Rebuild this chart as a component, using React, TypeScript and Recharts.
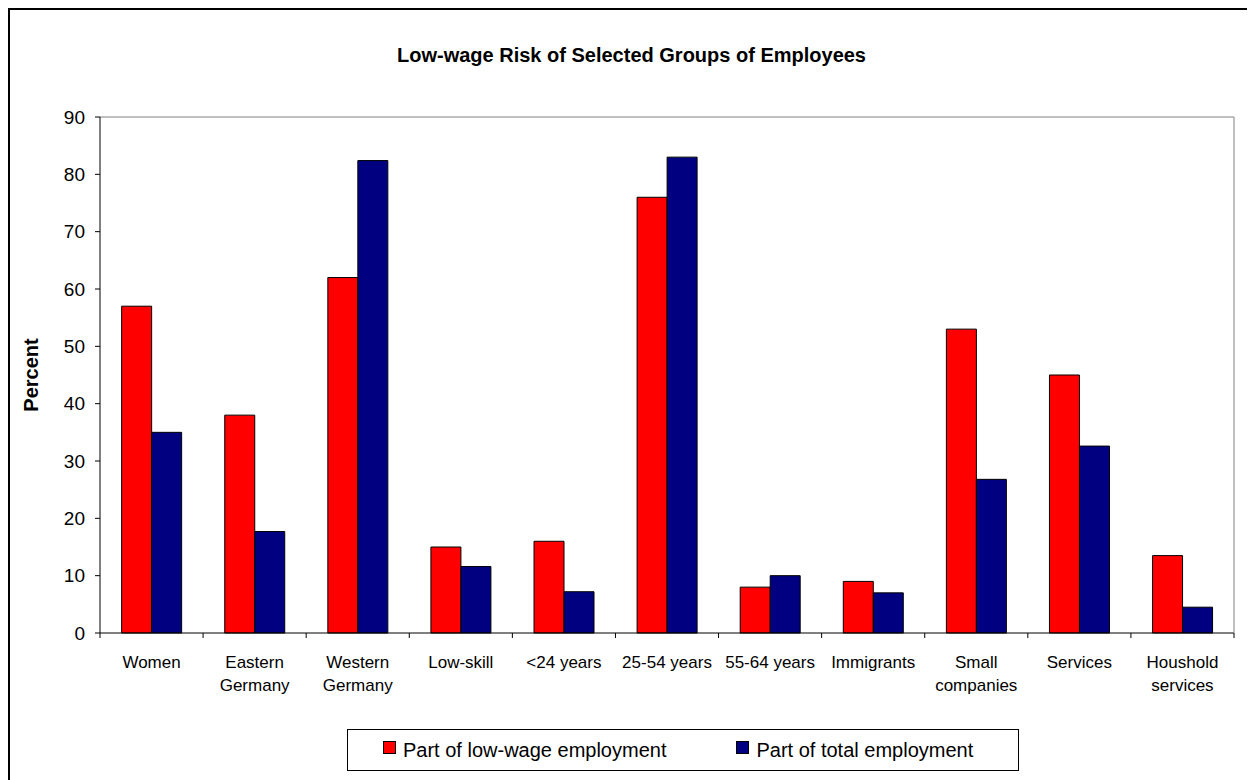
import React from "react";
import { BarChart, Bar, XAxis, YAxis, Legend, Label } from "recharts";

const categories = [
  "Women",
  "Eastern\nGermany",
  "Western\nGermany",
  "Low-skill",
  "<24 years",
  "25-54 years",
  "55-64 years",
  "Immigrants",
  "Small\ncompanies",
  "Services",
  "Houshold\nservices",
];
const lowWageShare = [57, 38, 62, 15, 16, 76, 8, 9, 53, 45, 13.5];
const totalShare = [35, 17.7, 82.4, 11.6, 7.2, 83, 10, 7, 26.8, 32.6, 4.5];
const yTicks = [0, 10, 20, 30, 40, 50, 60, 70, 80, 90];
const groupEdges = [0, 1, 2, 3, 4, 5, 6, 7, 8, 9, 10, 11];

const data = categories.map((name, i) => ({
  name,
  low: lowWageShare[i],
  total: totalShare[i],
}));

const FONT = '"Liberation Sans", Arial, sans-serif';

function CategoryTick({ x, y, payload }: any) {
  const lines = String(payload.value).split("\n");
  return (
    <text x={x} y={y} textAnchor="middle" fontSize={17} fontFamily={FONT} fill="#000">
      {lines.map((l, i) => (
        <tspan key={i} x={x} dy={i === 0 ? 34 : 23}>
          {l}
        </tspan>
      ))}
    </text>
  );
}

function PercentLabel({ viewBox }: any) {
  const cx = viewBox.x + 30;
  const cy = viewBox.y + viewBox.height / 2;
  return (
    <text
      x={cx}
      y={cy}
      transform={`rotate(-90 ${cx} ${cy})`}
      textAnchor="middle"
      fontSize={20}
      fontWeight="bold"
      fontFamily={FONT}
      fill="#000"
    >
      Percent
    </text>
  );
}

function LegendBox({ payload }: any) {
  return (
    <div
      style={{
        boxSizing: "border-box",
        width: 672,
        height: 42,
        border: "1px solid #000",
        display: "flex",
        alignItems: "center",
        paddingLeft: 35,
        fontFamily: FONT,
        fontSize: 20,
        color: "#000",
        background: "#fff",
      }}
    >
      {(payload || []).map((p: any, i: number) => (
        <div key={i} style={{ display: "flex", alignItems: "center", marginLeft: i === 0 ? 0 : 70 }}>
          <span
            style={{
              display: "inline-block",
              boxSizing: "border-box",
              width: 13,
              height: 13,
              background: p.color,
              border: "1.5px solid #000",
              marginRight: 7,
              marginTop: -6,
            }}
          />
          <span>{p.value}</span>
        </div>
      ))}
    </div>
  );
}

const noTick = () => <g />;

export default function App() {
  return (
    <div
      style={{
        position: "relative",
        width: 1247,
        height: 772,
        boxSizing: "border-box",
        borderLeft: "2px solid #000",
        borderTop: "2px solid #000",
        overflow: "hidden",
        background: "#fff",
      }}
    >
      <div
        style={{
          position: "absolute",
          left: -2,
          top: 35,
          width: 1247,
          textAlign: "center",
          fontFamily: FONT,
          fontWeight: "bold",
          fontSize: 20,
          lineHeight: "20px",
          color: "#000",
        }}
      >
        Low-wage Risk of Selected Groups of Employees
      </div>
      <div style={{ position: "absolute", left: -2, top: -2 }}>
        <BarChart
          width={1247}
          height={772}
          data={data}
          margin={{ top: 108, right: 20, left: 0, bottom: 87 }}
          barCategoryGap="21%"
          barGap={0}
        >
          <XAxis
            xAxisId="a-edges"
            type="number"
            dataKey="idx"
            domain={[0, 11]}
            ticks={groupEdges}
            allowDataOverflow
            height={1}
            axisLine={{ stroke: "#000" }}
            tickLine={{ stroke: "#000" }}
            tickSize={5}
            tick={noTick}
          />
          <XAxis
            xAxisId="b-cat"
            dataKey="name"
            height={59}
            interval={0}
            axisLine={false}
            tickLine={false}
            tickSize={0}
            tickMargin={0}
            tick={<CategoryTick />}
          />
          <XAxis
            xAxisId="top"
            dataKey="name"
            orientation="top"
            height={1}
            axisLine={{ stroke: "#808080" }}
            tickLine={false}
            tick={false}
          />
          <YAxis
            domain={[0, 90]}
            ticks={yTicks}
            width={92}
            axisLine={{ stroke: "#000" }}
            tickLine={{ stroke: "#000" }}
            tickSize={5}
            tickMargin={10}
            tick={{ fontSize: 19, fontFamily: FONT, fill: "#000" }}
            interval={0}
          >
            <Label content={<PercentLabel />} />
          </YAxis>
          <YAxis
            yAxisId="frame"
            orientation="right"
            domain={[0, 90]}
            width={1}
            axisLine={{ stroke: "#808080" }}
            tickLine={false}
            tick={false}
          />
          <Legend
            layout="horizontal"
            verticalAlign="middle"
            align="center"
            content={<LegendBox />}
            wrapperStyle={{ position: "absolute", left: 339, top: 721, width: 672, height: 42 }}
          />
          <Bar
            xAxisId="b-cat"
            dataKey="low"
            name="Part of low-wage employment"
            fill="#FF0000"
            stroke="#000"
            strokeWidth={1}
            isAnimationActive={false}
          />
          <Bar
            xAxisId="b-cat"
            dataKey="total"
            name="Part of total employment"
            fill="#000080"
            stroke="#000"
            strokeWidth={1}
            isAnimationActive={false}
          />
        </BarChart>
      </div>
    </div>
  );
}
